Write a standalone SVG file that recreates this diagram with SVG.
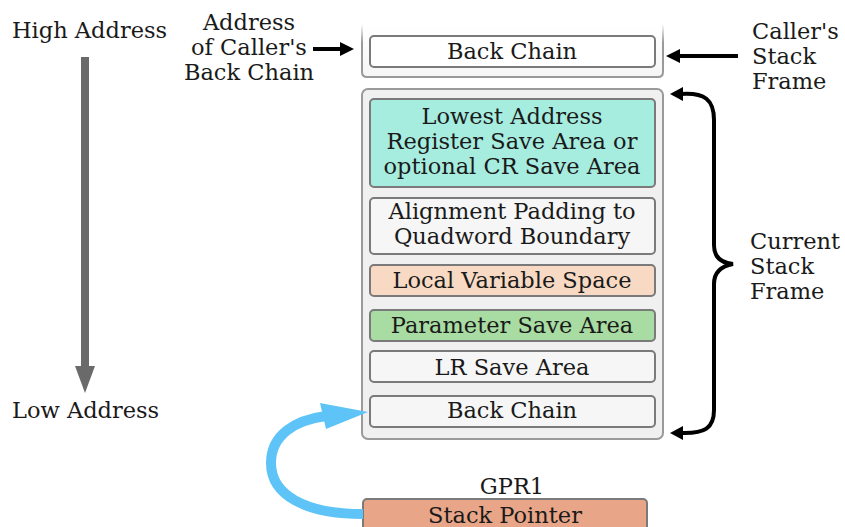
<svg xmlns="http://www.w3.org/2000/svg" width="845" height="527" viewBox="0 0 845 527">
<defs>
<style>
text{font-family:"DejaVu Serif","Liberation Serif",serif;font-size:22.5px;fill:#1a1a1a}
.c{text-anchor:middle}
.outer{fill:#f0f0f0;stroke:#9a9a9a;stroke-width:2}
.inner{stroke:#7a7a7a;stroke-width:2}
.blk{fill:none;stroke:#000;stroke-width:4}
</style>
<linearGradient id="fade" x1="0" y1="0" x2="0" y2="1">
<stop offset="0" stop-color="#9a9a9a" stop-opacity="0"/>
<stop offset="0.35" stop-color="#9a9a9a" stop-opacity="1"/>
</linearGradient>
<linearGradient id="fadefill" x1="0" y1="0" x2="0" y2="1">
<stop offset="0" stop-color="#ffffff"/>
<stop offset="1" stop-color="#f6f6f6"/>
</linearGradient>
</defs>
<rect width="845" height="527" fill="#ffffff"/>

<g id="labels">
<text x="12" y="38">High Address</text>
<text x="12" y="418">Low Address</text>
<text class="c" x="249" y="30">Address</text>
<text class="c" x="249" y="55">of Caller's</text>
<text class="c" x="249" y="80">Back Chain</text>
<text x="752" y="39">Caller's</text>
<text x="752" y="64">Stack</text>
<text x="752" y="89">Frame</text>
<text x="750" y="249">Current</text>
<text x="750" y="274">Stack</text>
<text x="750" y="299">Frame</text>
<text class="c" x="512" y="494">GPR1</text>
</g>

<g id="callerFrame">
<path d="M362 24 V72 Q362 77 367 77 H658 Q663 77 663 72 V24" fill="url(#fadefill)" stroke="url(#fade)" stroke-width="2"/>
<rect class="inner" x="370" y="36" width="285" height="31" rx="4" fill="#ffffff"/>
<text class="c" x="512" y="59">Back Chain</text>
</g>

<g id="currentFrame">
<rect class="outer" x="362" y="89" width="301" height="350" rx="6"/>
</g>
<g id="lowestAddress">
<rect class="inner" x="370" y="99" width="285" height="88" rx="4" fill="#a6ede0"/>
<text class="c" x="512" y="124">Lowest Address</text>
<text class="c" x="512" y="149">Register Save Area or</text>
<text class="c" x="512" y="174">optional CR Save Area</text>
</g>
<g id="alignment">
<rect class="inner" x="370" y="198" width="285" height="56" rx="4" fill="#f6f6f6"/>
<text class="c" x="512" y="219">Alignment Padding to</text>
<text class="c" x="512" y="244">Quadword Boundary</text>
</g>
<g id="localVar">
<rect class="inner" x="370" y="265" width="285" height="31" rx="4" fill="#f8dac4"/>
<text class="c" x="512" y="288">Local Variable Space</text>
</g>
<g id="paramSave">
<rect class="inner" x="370" y="310" width="285" height="31" rx="4" fill="#a8dca2"/>
<text class="c" x="512" y="333">Parameter Save Area</text>
</g>
<g id="lrSave">
<rect class="inner" x="370" y="351" width="285" height="31" rx="4" fill="#f6f6f6"/>
<text class="c" x="512" y="375">LR Save Area</text>
</g>
<g id="backChain">
<rect class="inner" x="370" y="396" width="285" height="31" rx="4" fill="#f6f6f6"/>
<text class="c" x="512" y="418">Back Chain</text>
</g>
<g id="stackPointer">
<rect class="inner" x="363" y="499" width="284" height="40" rx="4" fill="#e8a588"/>
<text class="c" x="505" y="523">Stack Pointer</text>
</g>

<g id="connectors">
<line x1="85" y1="57" x2="85" y2="370" stroke="#6a6a6a" stroke-width="8"/>
<polygon points="75,366 95,366 85,393" fill="#6a6a6a"/>
<line x1="313" y1="49" x2="342" y2="49" stroke="#000" stroke-width="4"/>
<polygon points="340,42 354,49 340,56" fill="#000"/>
<line x1="738" y1="56" x2="678" y2="56" stroke="#000" stroke-width="4"/>
<polygon points="680,49 666,56 680,63" fill="#000"/>
<path class="blk" d="M680 94 C705 92 714 100 714 120 V245 C714 258 722 263 733 264 C722 266 714 271 714 284 V410 C714 428 705 434 680 433"/>
<polygon points="683,87 670,94 683,101" fill="#000"/>
<polygon points="683,426 670,433 683,440" fill="#000"/>
<path d="M363 514 C305 514 271 495 271 463 C271 435 295 420 326 416" fill="none" stroke="#5ec4f7" stroke-width="10"/>
<polygon points="320,403 368,412 326,429" fill="#5ec4f7"/>
</g>
</svg>
